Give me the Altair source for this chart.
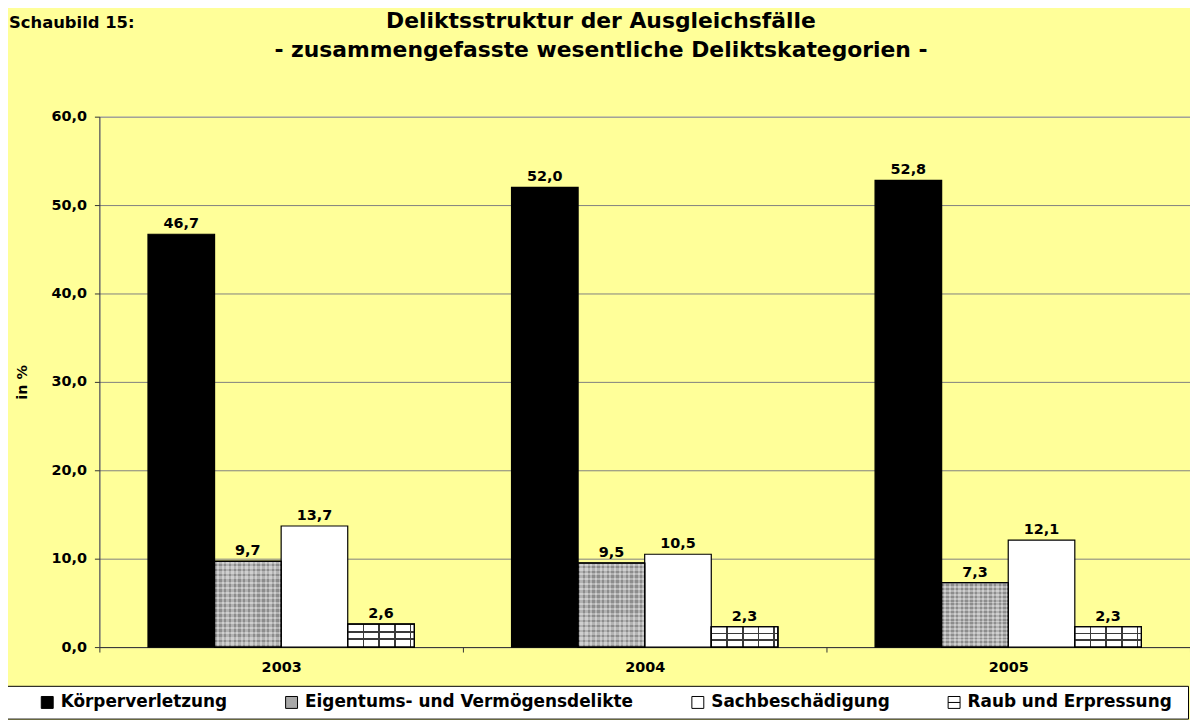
import altair as alt
import pandas as pd

years = ["2003", "2004", "2005"]
cats = ["Körperverletzung", "Eigentums- und Vermögensdelikte", "Sachbeschädigung", "Raub und Erpressung"]
koerper = [46.7, 52.0, 52.8]
eigentum = [9.7, 9.5, 7.3]
sach = [13.7, 10.5, 12.1]
raub = [2.6, 2.3, 2.3]
fills = ["#000000", "#A8A8A8", "#FFFFFF", "#FFFFFF"]
strokes = ["#000000", "#000000", "#000000", "#000000"]
shapes = ["square", "square", "square", "M-1,-1H1V1H-1Z M-1,0H1"]
y_ticks = [0, 10, 20, 30, 40, 50, 60]

series = [koerper, eigentum, sach, raub]
rows = []
for yi, yr in enumerate(years):
    for ci, c in enumerate(cats):
        rows.append({"year": yr, "cat": c, "value": series[ci][yi]})
df = pd.DataFrame(rows)

FONT = "DejaVu Sans"


def stripes(n, c1, c2, vertical_lines=True):
    stops = []
    for i in range(n):
        a, m, b = i / n, (i + 0.5) / n, (i + 1) / n
        stops += [alt.GradientStop(color=c1, offset=a), alt.GradientStop(color=c1, offset=m),
                  alt.GradientStop(color=c2, offset=m), alt.GradientStop(color=c2, offset=b)]
    if vertical_lines:
        return alt.LinearGradient(gradient="linear", stops=stops, x1=0, x2=1, y1=0, y2=0)
    return alt.LinearGradient(gradient="linear", stops=stops, x1=0, x2=0, y1=0, y2=1)


def lines(fracs, width, bg, fg, vertical_lines=True):
    stops = [alt.GradientStop(color=bg, offset=0)]
    for f in fracs:
        stops += [alt.GradientStop(color=bg, offset=f), alt.GradientStop(color=fg, offset=f),
                  alt.GradientStop(color=fg, offset=f + width), alt.GradientStop(color=bg, offset=f + width)]
    stops.append(alt.GradientStop(color=bg, offset=1))
    if vertical_lines:
        return alt.LinearGradient(gradient="linear", stops=stops, x1=0, x2=1, y1=0, y2=0)
    return alt.LinearGradient(gradient="linear", stops=stops, x1=0, x2=0, y1=0, y2=1)


X = alt.X("year:N", sort=years,
          scale=alt.Scale(paddingInner=0, paddingOuter=0),
          axis=alt.Axis(title=None, labelAngle=0, tickBand="extent", tickSize=5,
                        tickColor="#333333", domainColor="#333333", grid=False,
                        labelFont=FONT, labelFontWeight="bold", labelFontSize=14.5,
                        labelColor="black", labelPadding=9))
XO = alt.XOffset("cat:N", sort=cats,
                 scale=alt.Scale(domain=cats, paddingInner=0, paddingOuter=0.73))
Y_AXIS = alt.Axis(values=y_ticks, title="in %",
                  labelExpr="replace(format(datum.value, '.1f'), '.', ',')",
                  grid=True, gridColor="#808080", gridWidth=1,
                  tickSize=5, tickColor="#333333", domainColor="#333333",
                  labelFont=FONT, labelFontWeight="bold", labelFontSize=14.5,
                  labelColor="black", labelPadding=8,
                  titleFont=FONT, titleFontWeight="bold", titleFontSize=14.5,
                  titleColor="black", titlePadding=22)
Y = alt.Y("value:Q", scale=alt.Scale(domain=[0, 60], nice=False), axis=Y_AXIS)

LEGEND = alt.Legend(orient="none", legendX=-95, legendY=573,
                    direction="horizontal", title="\u00a0", titleOrient="right",
                    titlePadding=8, titleFontSize=17,
                    symbolSize=144, symbolOffset=26,
                    symbolStrokeColor="black", symbolStrokeWidth=1,
                    labelFont=FONT, labelFontWeight="bold", labelFontSize=17,
                    labelColor="black", labelOffset=5, labelLimit=0,
                    columnPadding=30, padding=8,
                    strokeColor="black", fillColor="white")
FILL = alt.Fill("cat:N", sort=cats, scale=alt.Scale(domain=cats, range=fills), legend=LEGEND)
STROKE = alt.Stroke("cat:N", sort=cats, scale=alt.Scale(domain=cats, range=strokes), legend=LEGEND)
SHAPE = alt.Shape("cat:N", sort=cats, scale=alt.Scale(domain=cats, range=shapes), legend=LEGEND)

base = alt.Chart(df).encode(x=X, xOffset=XO, y=Y)

# hidden key marks (covered by the bars) that carry the legend symbols
keys = alt.Chart(df).transform_calculate(mid="datum.value / 2").mark_point(
    filled=True, strokeWidth=1, size=100, opacity=1
).encode(x=X, xOffset=XO,
         y=alt.Y("mid:Q", scale=alt.Scale(domain=[0, 60], nice=False), axis=Y_AXIS),
         fill=FILL, stroke=STROKE, shape=SHAPE)

bars = base.mark_bar(stroke="black", strokeWidth=1.2).encode(fill=FILL)

eig_v = base.transform_filter(alt.datum.cat == cats[1]).mark_bar(
    fill=stripes(14, "#959595", "#BDBDBD", True), stroke="black", strokeWidth=1.2)
eig_h = base.transform_filter(alt.datum.cat == cats[1]).mark_bar(
    fill=stripes(17, "rgba(255,255,255,0.28)", "rgba(0,0,0,0.06)", False), stroke="black", strokeWidth=1.2)
raub_v = base.transform_filter(alt.datum.cat == cats[3]).mark_bar(
    fill=lines([0.225, 0.46, 0.695, 0.93], 0.025, "#FFFFFF", "#3A3A3A", True),
    stroke="black", strokeWidth=1.2)
raub_h = base.transform_filter(alt.datum.cat == cats[3]).mark_bar(
    fill=lines([0.3, 0.62], 0.07, "rgba(0,0,0,0)", "#3A3A3A", False),
    stroke="black", strokeWidth=1.2)

labels = base.transform_calculate(
    label="replace(format(datum.value, '.1f'), '.', ',')"
).mark_text(font=FONT, fontWeight="bold", fontSize=14.5, color="black",
            baseline="alphabetic", dy=-6).encode(text="label:N")

schaubild = alt.Chart(pd.DataFrame({"t": ["Schaubild 15:"]})).mark_text(
    font=FONT, fontWeight="bold", fontSize=16.5, color="black",
    align="left", baseline="alphabetic"
).encode(x=alt.value(-91), y=alt.value(-89), text="t:N")

chart = alt.layer(keys, bars, eig_v, eig_h, raub_v, raub_h, labels, schaubild).properties(
    width=1098, height=534,
    title=alt.TitleParams(
        text=["Deliktsstruktur der Ausgleichsfälle",
              "- zusammengefasste wesentliche Deliktskategorien -"],
        anchor="middle", font=FONT, fontWeight="bold", fontSize=22,
        lineHeight=29, color="black", dx=-44, offset=-47),
    padding={"left": 92, "top": 107, "right": 0, "bottom": 71},
    autosize=alt.AutoSizeParams(type="none"),
).configure_view(fill="white", stroke=None).configure(background="#FFFF99")

chart.save("out.html", embed_options={"renderer": "svg", "actions": False})
